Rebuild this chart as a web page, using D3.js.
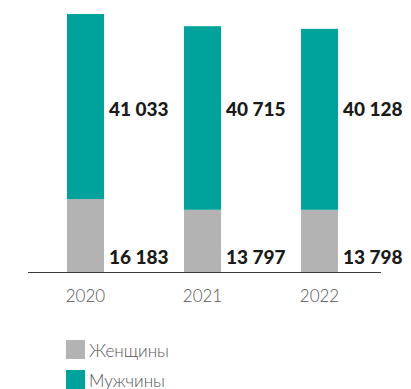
<!DOCTYPE html>
<html><head><meta charset="utf-8">
<script src="https://cdn.jsdelivr.net/npm/d3@7"></script>
<style>
html,body{margin:0;padding:0;background:#fff;}
svg{display:block;}
</style></head>
<body>
<svg id="c" width="411" height="389"></svg>
<script>
const years = ["2020", "2021", "2022"];
const women = [16183, 13797, 13798];
const men = [41033, 40715, 40128];
const seriesNames = ["Женщины", "Мужчины"];
const colors = ["#b3b3b3", "#00a39b"];

const svg = d3.select("#c");
const baseY = 272, topY = 14;
const totals = years.map((y, i) => women[i] + men[i]);
const y = d3.scaleLinear().domain([0, d3.max(totals)]).range([baseY, topY]);
const x = d3.scaleBand().domain(years).range([31.9, 373.1]).paddingInner(0.684).paddingOuter(0.3);

const data = years.map((yr, i) => ({year: yr, w: women[i], m: men[i]}));
const stack = d3.stack().keys(["w", "m"])(data);

svg.append("g").selectAll("g").data(stack).join("g")
  .attr("fill", (d, i) => colors[i])
  .selectAll("rect").data(d => d).join("rect")
  .attr("x", d => x(d.data.year))
  .attr("width", x.bandwidth())
  .attr("y", d => y(d[1]))
  .attr("height", d => y(d[0]) - y(d[1]));

// axis line
svg.append("line").attr("x1", 28).attr("x2", 381).attr("y1", baseY + 0.5).attr("y2", baseY + 0.5)
  .attr("stroke", "#3a3a3a").attr("stroke-width", 1);

const fmt = v => d3.format(",")(v).replace(/,/g, " ");
const lab = svg.append("g").attr("font-family", "Lato, sans-serif").attr("font-weight", 900)
  .attr("font-size", 19).attr("fill", "#1a1a1a");
lab.selectAll("text.m").data(data).join("text").attr("class", "m")
  .attr("x", d => x(d.year) + x.bandwidth() + 5).attr("y", 116).text(d => fmt(d.m));
lab.selectAll("text.w").data(data).join("text").attr("class", "w")
  .attr("x", d => x(d.year) + x.bandwidth() + 5).attr("y", 264).text(d => fmt(d.w));

// year labels
svg.append("g").selectAll("text").data(years).join("text")
  .attr("x", d => x(d) + x.bandwidth() / 2).attr("y", 302)
  .attr("text-anchor", "middle").attr("font-family", "Lato, sans-serif")
  .attr("font-weight", 300).attr("font-size", 17).attr("fill", "#555").text(d => d);

// legend
const lg = svg.append("g").selectAll("g").data(seriesNames).join("g")
  .attr("transform", (d, i) => `translate(66, ${340 + i * 30})`);
lg.append("rect").attr("width", 19).attr("height", 19).attr("fill", (d, i) => colors[i]);
lg.append("text").attr("x", 23).attr("y", 17).attr("font-family", "Lato, sans-serif")
  .attr("font-weight", 300).attr("font-size", 17).attr("fill", "#555").text(d => d);
</script>
</body></html>
